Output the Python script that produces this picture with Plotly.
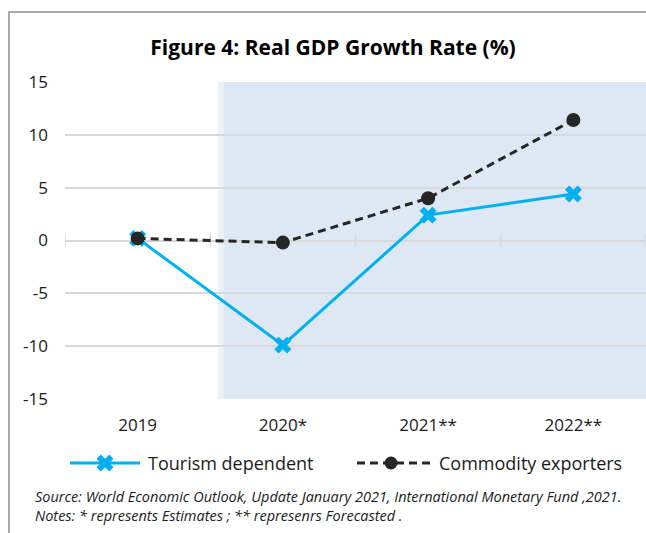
import plotly.graph_objects as go

# ---- data -------------------------------------------------------------
categories = ["2019", "2020*", "2021**", "2022**"]
tourism_dependent = [0.2, -9.9, 2.4, 4.4]
commodity_exporters = [0.2, -0.2, 4.0, 11.4]
y_ticks = [-15, -10, -5, 0, 5, 10, 15]
y_tick_labels = ["-15", "-10", "-5", "0", "5", "10", "15"]

# ---- page geometry (pixels) ------------------------------------------
W, H = 646, 533
PLOT_L, PLOT_R, PLOT_T, PLOT_B = 65, 646, 82, 399
FONT = "Open Sans"
TXT = "#1a1a1a"
BLUE = "#00b0f0"
DARK = "#262626"
GRID = "#d9d9d9"


def px(x):
    return x / W


def py(y):
    return 1 - y / H


fig = go.Figure()

# main series
fig.add_trace(go.Scatter(
    x=categories, y=tourism_dependent, mode="lines+markers",
    name="Tourism dependent", showlegend=False,
    line=dict(color=BLUE, width=3),
    marker=dict(symbol="x", size=15, color=BLUE, line=dict(width=0)),
    xaxis="x", yaxis="y", hoverinfo="skip",
))
fig.add_trace(go.Scatter(
    x=categories, y=commodity_exporters, mode="lines+markers",
    name="Commodity exporters", showlegend=False,
    line=dict(color=DARK, width=3, dash="8px,5px"),
    marker=dict(symbol="circle", size=14, color=DARK),
    xaxis="x", yaxis="y", hoverinfo="skip",
))

# legend glyphs drawn on a full-page pixel overlay
fig.add_trace(go.Scatter(
    x=[70, 105, 140], y=[463, 463, 463], mode="lines",
    line=dict(color=BLUE, width=3), showlegend=False,
    xaxis="x2", yaxis="y2", hoverinfo="skip",
))
fig.add_trace(go.Scatter(
    x=[105], y=[463], mode="markers",
    marker=dict(symbol="x", size=15, color=BLUE, line=dict(width=0)),
    showlegend=False, xaxis="x2", yaxis="y2", hoverinfo="skip",
))
fig.add_trace(go.Scatter(
    x=[357, 431], y=[463, 463], mode="lines",
    line=dict(color=DARK, width=3, dash="8px,5px"), showlegend=False,
    xaxis="x2", yaxis="y2", hoverinfo="skip",
))
fig.add_trace(go.Scatter(
    x=[391], y=[463], mode="markers",
    marker=dict(symbol="circle", size=13, color=DARK),
    showlegend=False, xaxis="x2", yaxis="y2", hoverinfo="skip",
))

shapes = []
# shaded estimate / forecast period
shapes.append(dict(type="rect", xref="x", yref="y", x0=0.555, x1=0.595,
                   y0=-15, y1=15, fillcolor="#eaf1f9", line=dict(width=0),
                   layer="below"))
shapes.append(dict(type="rect", xref="x", yref="y", x0=0.595, x1=3.5,
                   y0=-15, y1=15, fillcolor="#dde8f4", line=dict(width=0),
                   layer="below"))
# small tick marks on the zero line at category boundaries
for b in [-0.5, 0.5, 1.5, 2.5, 3.5]:
    shapes.append(dict(type="line", xref="x", yref="y", x0=b, x1=b,
                       y0=-0.65, y1=0.65, line=dict(color=GRID, width=1.5),
                       layer="between"))
# outer frame (left and top edges)
shapes.append(dict(type="path", xref="paper", yref="paper",
                   path=f"M {px(9)},{py(H)} L {px(9)},{py(12)} L 1,{py(12)}",
                   line=dict(color="#8c8c8c", width=1.5)))

annotations = [
    dict(text="Tourism dependent", x=px(146), y=py(463), xref="paper",
         yref="paper", xanchor="left", yanchor="middle", showarrow=False,
         font=dict(family=FONT, size=18, color=TXT)),
    dict(text="Commodity exporters", x=px(437), y=py(463), xref="paper",
         yref="paper", xanchor="left", yanchor="middle", showarrow=False,
         font=dict(family=FONT, size=18, color=TXT)),
    dict(text="<i>Source: World Economic Outlook, Update January 2021, "
              "International Monetary Fund ,2021.</i>",
         x=px(33), y=py(496), xref="paper", yref="paper", xanchor="left",
         yanchor="middle", showarrow=False,
         font=dict(family=FONT, size=14.5, color=TXT)),
    dict(text="<i>Notes: * represents Estimates ; ** represenrs Forecasted .</i>",
         x=px(33), y=py(515), xref="paper", yref="paper", xanchor="left",
         yanchor="middle", showarrow=False,
         font=dict(family=FONT, size=14.5, color=TXT)),
]

fig.update_layout(
    width=W, height=H,
    margin=dict(l=0, r=0, t=0, b=0, autoexpand=False),
    paper_bgcolor="white",
    plot_bgcolor="rgba(0,0,0,0)",
    title=dict(text="<b>Figure 4: Real GDP Growth Rate (%)</b>",
               x=px(333), xanchor="center", y=py(48), yanchor="middle",
               automargin=False,
               font=dict(family=FONT, size=21, color="#000000")),
    xaxis=dict(domain=[px(PLOT_L), px(PLOT_R)], range=[-0.5, 3.5],
               type="category", showgrid=False, zeroline=False,
               showline=False, ticks="", ticklabelstandoff=14,
               automargin=False,
               tickfont=dict(family=FONT, size=17, color=TXT),
               anchor="y", fixedrange=True),
    yaxis=dict(domain=[py(PLOT_B), py(PLOT_T)], range=[-15, 15],
               tickvals=y_ticks, ticktext=y_tick_labels,
               showgrid=True, gridcolor=GRID,
               gridwidth=1.5, zeroline=False, showline=False, ticks="",
               ticklabelstandoff=16, automargin=False,
               tickfont=dict(family=FONT, size=17, color=TXT),
               anchor="x", fixedrange=True),
    xaxis2=dict(domain=[0, 1], range=[0, W], visible=False, anchor="y2",
                automargin=False, fixedrange=True),
    yaxis2=dict(domain=[0, 1], range=[H, 0], visible=False, anchor="x2",
                automargin=False, fixedrange=True),
    shapes=shapes,
    annotations=annotations,
    showlegend=False,
    hovermode=False,
)

fig.write_html("out.html")
